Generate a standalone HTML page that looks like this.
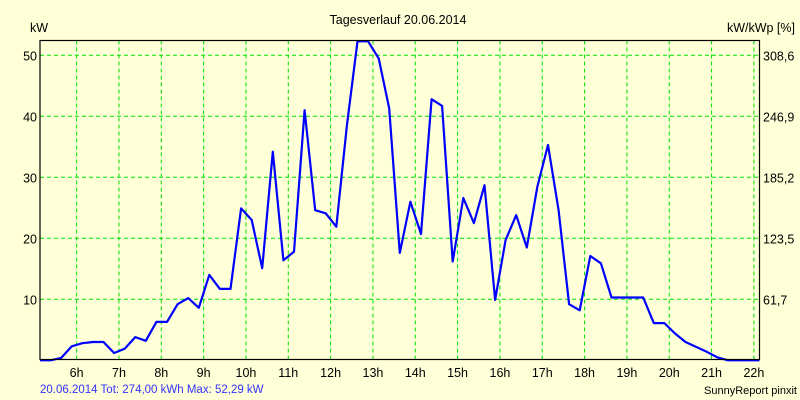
<!DOCTYPE html>
<html><head><meta charset="utf-8"><style>
html,body{margin:0;padding:0;background:#ffffd8;}
svg{display:block;font-family:"Liberation Sans",sans-serif;}
</style></head><body>
<svg id="chart" width="800" height="400" viewBox="0 0 800 400">
<rect x="0" y="0" width="800" height="400" fill="#ffffd8"/>
<text x="398" y="24" font-size="12.5" text-anchor="middle" fill="#000">Tagesverlauf 20.06.2014</text>
<text x="30" y="32" font-size="12.5" fill="#000">kW</text>
<text x="795" y="32" font-size="12.5" text-anchor="end" fill="#000">kW/kWp [%]</text>
<text x="40" y="393" font-size="11.5" fill="#3333ff">20.06.2014 Tot: 274,00 kWh Max: 52,29 kW</text>
<text x="797" y="394" font-size="11" text-anchor="end" fill="#000">SunnyReport pinxit</text>
<g id="grid"></g>
<g id="axes"></g>
<g id="series"></g>
<rect x="40" y="40.5" width="719.5" height="319" fill="none" stroke="#000" stroke-width="1.2"/>
</svg>
<script>
const hourTicks=[6,7,8,9,10,11,12,13,14,15,16,17,18,19,20,21,22];
const yTicks=[10,20,30,40,50];
const rightTickLabels=["61,7","123,5","185,2","246,9","308,6"];
const startHour=5.135;
const stepHours=0.25;
const power=[0,0,0.4,2.3,2.8,3.0,3.0,1.2,1.9,3.8,3.2,6.3,6.3,9.2,10.2,8.6,14,11.7,11.7,24.9,23,
15.1,34.2,16.4,17.8,41,24.6,24.1,21.9,38.5,52.29,52.29,49.5,41.3,17.6,26,20.7,42.8,41.7,16.2,
26.6,22.5,28.7,9.9,19.7,23.8,18.5,28.5,35.3,24.6,9.2,8.2,17.1,15.9,10.3,10.3,10.3,10.3,6.1,6.1,
4.4,3.0,2.2,1.4,0.5,0,0,0,0];

const NS="http://www.w3.org/2000/svg";
const L=40,R=759.5,T=40.5,B=359.5;
function xScale(h){return 34.3+(h-5)*42.33;}
function yScale(v){return 360.3-v*6.1;}
const grid=document.getElementById('grid'),axes=document.getElementById('axes'),series=document.getElementById('series');

hourTicks.forEach(h=>{
  const x=xScale(h);
  const ln=document.createElementNS(NS,'line');
  ln.setAttribute('x1',x);ln.setAttribute('x2',x);ln.setAttribute('y1',T);ln.setAttribute('y2',B);
  ln.setAttribute('stroke','#00e000');ln.setAttribute('stroke-width','1');ln.setAttribute('stroke-dasharray','4,3');
  
  
  grid.appendChild(ln);
  const t=document.createElementNS(NS,'text');
  t.setAttribute('x',x);t.setAttribute('y',377);t.setAttribute('font-size','12.5');t.setAttribute('text-anchor','middle');
  t.textContent=h+'h';
  
  
  axes.appendChild(t);
});
yTicks.forEach((v,i)=>{
  const y=yScale(v);
  const ln=document.createElementNS(NS,'line');
  ln.setAttribute('x1',L);ln.setAttribute('x2',R);ln.setAttribute('y1',y);ln.setAttribute('y2',y);
  ln.setAttribute('stroke','#00e000');ln.setAttribute('stroke-width','1');ln.setAttribute('stroke-dasharray','4,3');
  
  
  grid.appendChild(ln);
  const t=document.createElementNS(NS,'text');
  t.setAttribute('x',37);t.setAttribute('y',y+5);t.setAttribute('font-size','12.5');t.setAttribute('text-anchor','end');
  t.textContent=v;
  
  
  axes.appendChild(t);
  const t2=document.createElementNS(NS,'text');
  t2.setAttribute('x',763);t2.setAttribute('y',y+5);t2.setAttribute('font-size','12.5');
  t2.textContent=rightTickLabels[i];
  
  
  axes.appendChild(t2);
});
const pts=power.map((v,i)=>{
  const x=Math.min(R,xScale(startHour+i*stepHours));
  const y=Math.max(T,yScale(v));
  return x.toFixed(1)+','+y.toFixed(1);
}).join(' ');
const pl=document.createElementNS(NS,'polyline');
pl.setAttribute('points',pts);pl.setAttribute('fill','none');pl.setAttribute('stroke','#0000ff');pl.setAttribute('stroke-width','2.2');
pl.setAttribute('stroke-linejoin','round');


series.appendChild(pl);
</script>
</body></html>
